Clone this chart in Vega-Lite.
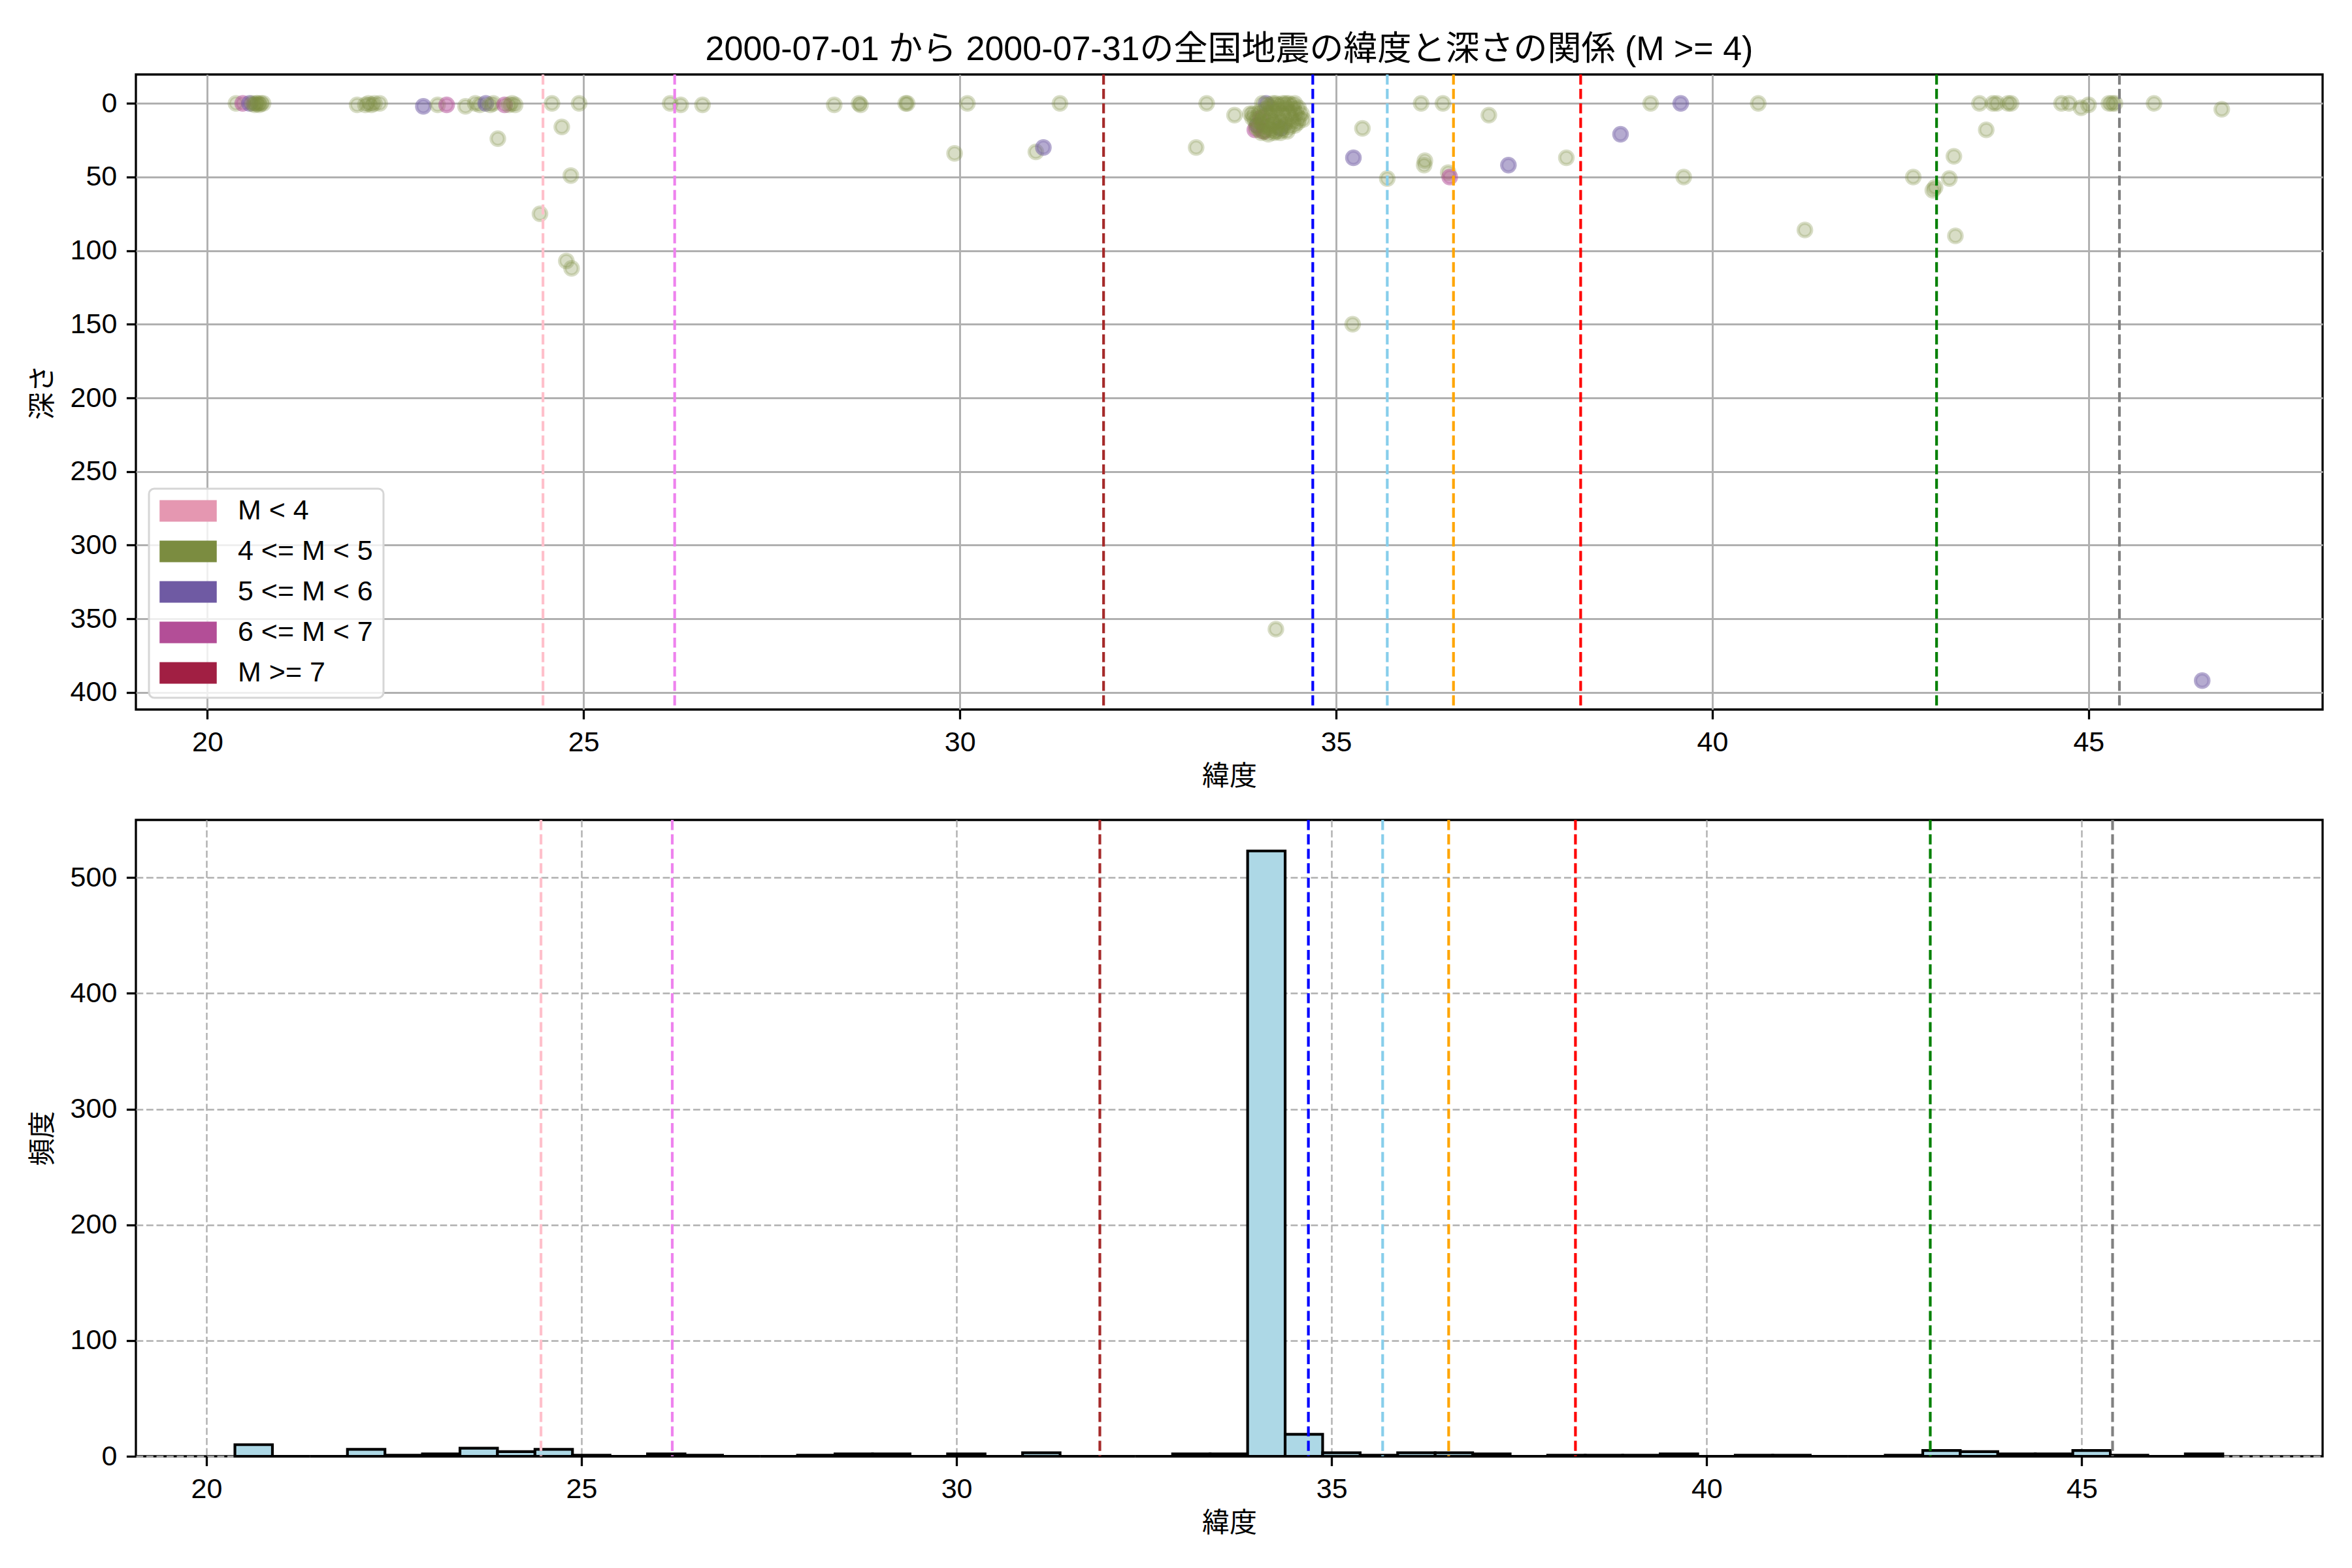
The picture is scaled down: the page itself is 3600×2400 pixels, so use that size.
{
  "$schema": "https://vega.github.io/schema/vega-lite/v6.json",
  "background": "white",
  "padding": {"left": 42, "top": 48, "right": 10, "bottom": 10},
  "bounds": "flush",
  "spacing": 169,
  "config": {
    "font": "Liberation Sans, Noto Sans CJK JP",
    "view": {"stroke": "black", "strokeWidth": 3.3},
    "axis": {
      "domain": false,
      "tickColor": "black",
      "tickWidth": 3.3,
      "tickSize": 14.6,
      "labelPadding": 14.6,
      "labelFontSize": 43,
      "labelColor": "black",
      "labelFont": "Liberation Sans, Noto Sans CJK JP",
      "titleFontSize": 42,
      "titleFontWeight": "normal",
      "titleColor": "black",
      "titleFont": "Noto Sans CJK JP",
      "gridColor": "#b0b0b0",
      "labelFlush": false,
      "labelOverlap": false
    }
  },
  "datasets": {
    "pts": [
      {"lat": 20.38, "depth": 0, "c": "4 <= M < 5"},
      {"lat": 20.47, "depth": 0, "c": "6 <= M < 7"},
      {"lat": 20.56, "depth": 0, "c": "5 <= M < 6"},
      {"lat": 20.60, "depth": 0, "c": "4 <= M < 5"},
      {"lat": 20.63, "depth": 1, "c": "4 <= M < 5"},
      {"lat": 20.65, "depth": 0, "c": "4 <= M < 5"},
      {"lat": 20.67, "depth": 0, "c": "4 <= M < 5"},
      {"lat": 20.69, "depth": 1, "c": "4 <= M < 5"},
      {"lat": 20.71, "depth": 0, "c": "4 <= M < 5"},
      {"lat": 20.74, "depth": 0, "c": "4 <= M < 5"},
      {"lat": 21.99, "depth": 1, "c": "4 <= M < 5"},
      {"lat": 22.10, "depth": 1, "c": "4 <= M < 5"},
      {"lat": 22.14, "depth": 0, "c": "4 <= M < 5"},
      {"lat": 22.18, "depth": 1, "c": "4 <= M < 5"},
      {"lat": 22.22, "depth": 0, "c": "4 <= M < 5"},
      {"lat": 22.29, "depth": 0, "c": "4 <= M < 5"},
      {"lat": 22.87, "depth": 2, "c": "5 <= M < 6"},
      {"lat": 23.06, "depth": 1, "c": "4 <= M < 5"},
      {"lat": 23.18, "depth": 1, "c": "6 <= M < 7"},
      {"lat": 23.43, "depth": 2, "c": "4 <= M < 5"},
      {"lat": 23.56, "depth": 0, "c": "4 <= M < 5"},
      {"lat": 23.62, "depth": 1, "c": "4 <= M < 5"},
      {"lat": 23.70, "depth": 0, "c": "5 <= M < 6"},
      {"lat": 23.76, "depth": 1, "c": "4 <= M < 5"},
      {"lat": 23.80, "depth": 0, "c": "4 <= M < 5"},
      {"lat": 23.86, "depth": 24, "c": "4 <= M < 5"},
      {"lat": 23.95, "depth": 1, "c": "6 <= M < 7"},
      {"lat": 24.01, "depth": 1, "c": "4 <= M < 5"},
      {"lat": 24.05, "depth": 0, "c": "4 <= M < 5"},
      {"lat": 24.09, "depth": 1, "c": "4 <= M < 5"},
      {"lat": 24.42, "depth": 75, "c": "4 <= M < 5"},
      {"lat": 24.58, "depth": 0, "c": "4 <= M < 5"},
      {"lat": 24.71, "depth": 16, "c": "4 <= M < 5"},
      {"lat": 24.77, "depth": 107, "c": "4 <= M < 5"},
      {"lat": 24.83, "depth": 49, "c": "4 <= M < 5"},
      {"lat": 24.84, "depth": 112, "c": "4 <= M < 5"},
      {"lat": 24.94, "depth": 0, "c": "4 <= M < 5"},
      {"lat": 26.15, "depth": 0, "c": "4 <= M < 5"},
      {"lat": 26.29, "depth": 1, "c": "4 <= M < 5"},
      {"lat": 26.58, "depth": 1, "c": "4 <= M < 5"},
      {"lat": 28.33, "depth": 1, "c": "4 <= M < 5"},
      {"lat": 28.66, "depth": 0, "c": "4 <= M < 5"},
      {"lat": 28.68, "depth": 1, "c": "4 <= M < 5"},
      {"lat": 29.28, "depth": 0, "c": "4 <= M < 5"},
      {"lat": 29.30, "depth": 0, "c": "4 <= M < 5"},
      {"lat": 29.93, "depth": 34, "c": "4 <= M < 5"},
      {"lat": 30.10, "depth": 0, "c": "4 <= M < 5"},
      {"lat": 31.01, "depth": 33, "c": "4 <= M < 5"},
      {"lat": 31.11, "depth": 30, "c": "5 <= M < 6"},
      {"lat": 31.33, "depth": 0, "c": "4 <= M < 5"},
      {"lat": 33.14, "depth": 30, "c": "4 <= M < 5"},
      {"lat": 33.28, "depth": 0, "c": "4 <= M < 5"},
      {"lat": 33.65, "depth": 8, "c": "4 <= M < 5"},
      {"lat": 33.86, "depth": 7, "c": "4 <= M < 5"},
      {"lat": 34.07, "depth": 0, "c": "5 <= M < 6"},
      {"lat": 33.95, "depth": 15, "c": "5 <= M < 6"},
      {"lat": 34.00, "depth": 10, "c": "6 <= M < 7"},
      {"lat": 33.92, "depth": 18, "c": "6 <= M < 7"},
      {"lat": 34.26, "depth": 17, "c": "5 <= M < 6"},
      {"lat": 34.04, "depth": 19, "c": "6 <= M < 7"},
      {"lat": 34.02, "depth": 0, "c": "4 <= M < 5"},
      {"lat": 34.11, "depth": 1, "c": "4 <= M < 5"},
      {"lat": 34.16, "depth": 0, "c": "4 <= M < 5"},
      {"lat": 34.20, "depth": 0, "c": "4 <= M < 5"},
      {"lat": 34.24, "depth": 1, "c": "4 <= M < 5"},
      {"lat": 34.29, "depth": 0, "c": "4 <= M < 5"},
      {"lat": 34.33, "depth": 0, "c": "4 <= M < 5"},
      {"lat": 34.37, "depth": 0, "c": "4 <= M < 5"},
      {"lat": 34.41, "depth": 1, "c": "4 <= M < 5"},
      {"lat": 34.45, "depth": 0, "c": "4 <= M < 5"},
      {"lat": 34.06, "depth": 4, "c": "4 <= M < 5"},
      {"lat": 34.14, "depth": 3, "c": "4 <= M < 5"},
      {"lat": 34.23, "depth": 4, "c": "4 <= M < 5"},
      {"lat": 34.34, "depth": 3, "c": "4 <= M < 5"},
      {"lat": 34.44, "depth": 4, "c": "4 <= M < 5"},
      {"lat": 34.50, "depth": 3, "c": "4 <= M < 5"},
      {"lat": 33.90, "depth": 7, "c": "4 <= M < 5"},
      {"lat": 33.98, "depth": 6, "c": "4 <= M < 5"},
      {"lat": 34.08, "depth": 7, "c": "4 <= M < 5"},
      {"lat": 34.18, "depth": 6, "c": "4 <= M < 5"},
      {"lat": 34.28, "depth": 7, "c": "4 <= M < 5"},
      {"lat": 34.38, "depth": 6, "c": "4 <= M < 5"},
      {"lat": 34.47, "depth": 7, "c": "4 <= M < 5"},
      {"lat": 34.54, "depth": 7, "c": "4 <= M < 5"},
      {"lat": 33.89, "depth": 10, "c": "4 <= M < 5"},
      {"lat": 33.96, "depth": 9, "c": "4 <= M < 5"},
      {"lat": 34.03, "depth": 10, "c": "4 <= M < 5"},
      {"lat": 34.12, "depth": 9, "c": "4 <= M < 5"},
      {"lat": 34.20, "depth": 10, "c": "4 <= M < 5"},
      {"lat": 34.30, "depth": 9, "c": "4 <= M < 5"},
      {"lat": 34.40, "depth": 10, "c": "4 <= M < 5"},
      {"lat": 34.51, "depth": 10, "c": "4 <= M < 5"},
      {"lat": 33.93, "depth": 12, "c": "4 <= M < 5"},
      {"lat": 34.01, "depth": 13, "c": "4 <= M < 5"},
      {"lat": 34.10, "depth": 12, "c": "4 <= M < 5"},
      {"lat": 34.17, "depth": 13, "c": "4 <= M < 5"},
      {"lat": 34.25, "depth": 12, "c": "4 <= M < 5"},
      {"lat": 34.33, "depth": 13, "c": "4 <= M < 5"},
      {"lat": 34.43, "depth": 12, "c": "4 <= M < 5"},
      {"lat": 34.49, "depth": 13, "c": "4 <= M < 5"},
      {"lat": 34.56, "depth": 11, "c": "4 <= M < 5"},
      {"lat": 33.94, "depth": 16, "c": "4 <= M < 5"},
      {"lat": 34.03, "depth": 15, "c": "4 <= M < 5"},
      {"lat": 34.09, "depth": 16, "c": "4 <= M < 5"},
      {"lat": 34.15, "depth": 15, "c": "4 <= M < 5"},
      {"lat": 34.22, "depth": 16, "c": "4 <= M < 5"},
      {"lat": 34.31, "depth": 15, "c": "4 <= M < 5"},
      {"lat": 34.38, "depth": 16, "c": "4 <= M < 5"},
      {"lat": 34.45, "depth": 15, "c": "4 <= M < 5"},
      {"lat": 33.98, "depth": 18, "c": "4 <= M < 5"},
      {"lat": 34.06, "depth": 19, "c": "4 <= M < 5"},
      {"lat": 34.13, "depth": 18, "c": "4 <= M < 5"},
      {"lat": 34.20, "depth": 19, "c": "4 <= M < 5"},
      {"lat": 34.28, "depth": 18, "c": "4 <= M < 5"},
      {"lat": 34.35, "depth": 19, "c": "4 <= M < 5"},
      {"lat": 34.01, "depth": 20, "c": "4 <= M < 5"},
      {"lat": 34.10, "depth": 21, "c": "4 <= M < 5"},
      {"lat": 34.18, "depth": 20, "c": "4 <= M < 5"},
      {"lat": 34.26, "depth": 20, "c": "4 <= M < 5"},
      {"lat": 34.20, "depth": 357, "c": "4 <= M < 5"},
      {"lat": 35.23, "depth": 37, "c": "5 <= M < 6"},
      {"lat": 35.22, "depth": 150, "c": "4 <= M < 5"},
      {"lat": 35.35, "depth": 17, "c": "4 <= M < 5"},
      {"lat": 35.68, "depth": 51, "c": "4 <= M < 5"},
      {"lat": 36.13, "depth": 0, "c": "4 <= M < 5"},
      {"lat": 36.17, "depth": 42, "c": "4 <= M < 5"},
      {"lat": 36.18, "depth": 39, "c": "4 <= M < 5"},
      {"lat": 36.42, "depth": 0, "c": "4 <= M < 5"},
      {"lat": 36.49, "depth": 47, "c": "4 <= M < 5"},
      {"lat": 36.51, "depth": 50, "c": "6 <= M < 7"},
      {"lat": 37.03, "depth": 8, "c": "4 <= M < 5"},
      {"lat": 37.29, "depth": 42, "c": "5 <= M < 6"},
      {"lat": 38.06, "depth": 37, "c": "4 <= M < 5"},
      {"lat": 38.78, "depth": 21, "c": "5 <= M < 6"},
      {"lat": 39.18, "depth": 0, "c": "4 <= M < 5"},
      {"lat": 39.58, "depth": 0, "c": "5 <= M < 6"},
      {"lat": 39.62, "depth": 50, "c": "4 <= M < 5"},
      {"lat": 40.61, "depth": 0, "c": "4 <= M < 5"},
      {"lat": 41.23, "depth": 86, "c": "4 <= M < 5"},
      {"lat": 42.67, "depth": 50, "c": "4 <= M < 5"},
      {"lat": 42.93, "depth": 59, "c": "4 <= M < 5"},
      {"lat": 42.96, "depth": 57, "c": "4 <= M < 5"},
      {"lat": 43.15, "depth": 51, "c": "4 <= M < 5"},
      {"lat": 43.21, "depth": 36, "c": "4 <= M < 5"},
      {"lat": 43.23, "depth": 90, "c": "4 <= M < 5"},
      {"lat": 43.55, "depth": 0, "c": "4 <= M < 5"},
      {"lat": 43.64, "depth": 18, "c": "4 <= M < 5"},
      {"lat": 43.73, "depth": 0, "c": "4 <= M < 5"},
      {"lat": 43.78, "depth": 0, "c": "4 <= M < 5"},
      {"lat": 43.93, "depth": 0, "c": "4 <= M < 5"},
      {"lat": 43.97, "depth": 0, "c": "4 <= M < 5"},
      {"lat": 44.64, "depth": 0, "c": "4 <= M < 5"},
      {"lat": 44.74, "depth": 0, "c": "4 <= M < 5"},
      {"lat": 44.90, "depth": 3, "c": "4 <= M < 5"},
      {"lat": 45.00, "depth": 1, "c": "4 <= M < 5"},
      {"lat": 45.27, "depth": 0, "c": "4 <= M < 5"},
      {"lat": 45.31, "depth": 0, "c": "4 <= M < 5"},
      {"lat": 45.35, "depth": 0, "c": "4 <= M < 5"},
      {"lat": 45.87, "depth": 0, "c": "4 <= M < 5"},
      {"lat": 46.51, "depth": 392, "c": "5 <= M < 6"},
      {"lat": 46.77, "depth": 4, "c": "4 <= M < 5"}
    ],
    "hist": [
      {"b0": 20.38, "b1": 20.88, "n": 10},
      {"b0": 20.88, "b1": 21.38, "n": 0},
      {"b0": 21.38, "b1": 21.88, "n": 0},
      {"b0": 21.88, "b1": 22.38, "n": 6},
      {"b0": 22.38, "b1": 22.88, "n": 1},
      {"b0": 22.88, "b1": 23.38, "n": 2},
      {"b0": 23.38, "b1": 23.88, "n": 7},
      {"b0": 23.88, "b1": 24.38, "n": 4},
      {"b0": 24.38, "b1": 24.88, "n": 6},
      {"b0": 24.88, "b1": 25.38, "n": 1},
      {"b0": 25.38, "b1": 25.88, "n": 0},
      {"b0": 25.88, "b1": 26.38, "n": 2},
      {"b0": 26.38, "b1": 26.88, "n": 1},
      {"b0": 26.88, "b1": 27.38, "n": 0},
      {"b0": 27.38, "b1": 27.88, "n": 0},
      {"b0": 27.88, "b1": 28.38, "n": 1},
      {"b0": 28.38, "b1": 28.88, "n": 2},
      {"b0": 28.88, "b1": 29.38, "n": 2},
      {"b0": 29.38, "b1": 29.88, "n": 0},
      {"b0": 29.88, "b1": 30.38, "n": 2},
      {"b0": 30.38, "b1": 30.88, "n": 0},
      {"b0": 30.88, "b1": 31.38, "n": 3},
      {"b0": 31.38, "b1": 31.88, "n": 0},
      {"b0": 31.88, "b1": 32.38, "n": 0},
      {"b0": 32.38, "b1": 32.88, "n": 0},
      {"b0": 32.88, "b1": 33.38, "n": 2},
      {"b0": 33.38, "b1": 33.88, "n": 2},
      {"b0": 33.88, "b1": 34.38, "n": 523},
      {"b0": 34.38, "b1": 34.88, "n": 19},
      {"b0": 34.88, "b1": 35.38, "n": 3},
      {"b0": 35.38, "b1": 35.88, "n": 1},
      {"b0": 35.88, "b1": 36.38, "n": 3},
      {"b0": 36.38, "b1": 36.88, "n": 3},
      {"b0": 36.88, "b1": 37.38, "n": 2},
      {"b0": 37.38, "b1": 37.88, "n": 0},
      {"b0": 37.88, "b1": 38.38, "n": 1},
      {"b0": 38.38, "b1": 38.88, "n": 1},
      {"b0": 38.88, "b1": 39.38, "n": 1},
      {"b0": 39.38, "b1": 39.88, "n": 2},
      {"b0": 39.88, "b1": 40.38, "n": 0},
      {"b0": 40.38, "b1": 40.88, "n": 1},
      {"b0": 40.88, "b1": 41.38, "n": 1},
      {"b0": 41.38, "b1": 41.88, "n": 0},
      {"b0": 41.88, "b1": 42.38, "n": 0},
      {"b0": 42.38, "b1": 42.88, "n": 1},
      {"b0": 42.88, "b1": 43.38, "n": 5},
      {"b0": 43.38, "b1": 43.88, "n": 4},
      {"b0": 43.88, "b1": 44.38, "n": 2},
      {"b0": 44.38, "b1": 44.88, "n": 2},
      {"b0": 44.88, "b1": 45.38, "n": 5},
      {"b0": 45.38, "b1": 45.88, "n": 1},
      {"b0": 45.88, "b1": 46.38, "n": 0},
      {"b0": 46.38, "b1": 46.88, "n": 2}
    ],
    "lines": [
      {"id": "a", "lat": 24.46},
      {"id": "b", "lat": 26.21},
      {"id": "c", "lat": 31.91},
      {"id": "d", "lat": 34.69},
      {"id": "e", "lat": 35.68},
      {"id": "f", "lat": 36.56},
      {"id": "g", "lat": 38.25},
      {"id": "h", "lat": 42.98},
      {"id": "i", "lat": 45.41}
    ]
  },
  "vconcat": [
    {
      "width": 3347,
      "height": 972,
      "title": {
        "text": "2000-07-01 から 2000-07-31の全国地震の緯度と深さの関係 (M >= 4)",
        "fontSize": 52,
        "font": "Liberation Sans, Noto Sans CJK JP",
        "fontWeight": "normal",
        "color": "black",
        "anchor": "middle",
        "baseline": "bottom",
        "offset": -43
      },
      "layer": [
        {
          "data": {"name": "pts"},
          "mark": {"type": "point", "shape": "circle", "size": 420, "strokeWidth": 5},
          "encoding": {
            "x": {
              "field": "lat", "type": "quantitative",
              "scale": {"domain": [19.05, 48.11], "nice": false, "zero": false},
              "axis": {"title": "緯度", "values": [20, 25, 30, 35, 40, 45], "grid": true, "gridWidth": 2.9, "titlePadding": 10}
            },
            "y": {
              "field": "depth", "type": "quantitative",
              "scale": {"domain": [-19.6, 411.6], "reverse": true, "nice": false, "zero": false},
              "axis": {"title": "深さ", "values": [0, 50, 100, 150, 200, 250, 300, 350, 400], "grid": true, "gridWidth": 2.9, "titlePadding": 20}
            },
            "fill": {
              "field": "c", "type": "nominal",
              "scale": {
                "domain": ["M < 4", "4 <= M < 5", "5 <= M < 6", "6 <= M < 7", "M >= 7"],
                "range": ["#E597B1", "#7B8C40", "#6F5AA3", "#B34E97", "#A11F43"]
              },
              "legend": {
                "title": null,
                "orient": "none",
                "legendX": 20,
                "legendY": 634,
                "zindex": 2,
                "symbolType": "M-1,-0.377H1V0.377H-1Z",
                "symbolSize": 7656,
                "symbolStrokeWidth": 0,
                "symbolOpacity": 1,
                "labelFontSize": 43,
                "labelFont": "Liberation Sans, Noto Sans CJK JP",
                "labelColor": "black",
                "labelLimit": 600,
                "labelOffset": 32,
                "rowPadding": 19,
                "clipHeight": 36,
                "padding": 16,
                "fillColor": "rgba(255,255,255,0.8)",
                "strokeColor": "#d6d6d6",
                "cornerRadius": 8,
                "encode": {
                  "symbols": {"update": {"fillOpacity": {"value": 1}, "strokeOpacity": {"value": 0}}},
                  "legend": {"update": {"strokeWidth": {"value": 3}}}
                }
              }
            },
            "stroke": {
              "field": "c", "type": "nominal",
              "scale": {
                "domain": ["M < 4", "4 <= M < 5", "5 <= M < 6", "6 <= M < 7", "M >= 7"],
                "range": ["#E597B1", "#7B8C40", "#6F5AA3", "#B34E97", "#A11F43"]
              },
              "legend": null
            },
            "fillOpacity": {"condition": {"test": "datum.c === '4 <= M < 5'", "value": 0.42}, "value": 0.72},
            "strokeOpacity": {"condition": {"test": "datum.c === '4 <= M < 5'", "value": 0.42}, "value": 0.72}
          }
        },
        {
          "data": {"name": "lines"},
          "mark": {"type": "rule", "strokeWidth": 4.17, "strokeDash": [15.4, 6.7]},
          "encoding": {
            "x": {
              "field": "lat", "type": "quantitative",
              "scale": {"domain": [19.05, 48.11], "nice": false, "zero": false},
              "axis": {"title": "緯度", "values": [20, 25, 30, 35, 40, 45], "grid": true, "gridWidth": 2.9, "titlePadding": 10}
            },
            "color": {
              "field": "id", "type": "nominal",
              "scale": {
                "domain": ["a", "b", "c", "d", "e", "f", "g", "h", "i"],
                "range": ["#FFC0CB", "#EE82EE", "#A52A2A", "#0000FF", "#87CEEB", "#FFA500", "#FF0000", "#008000", "#808080"]
              },
              "legend": null
            }
          }
        }
      ]
    },
    {
      "width": 3347,
      "height": 974,
      "layer": [
        {
          "data": {"name": "hist"},
          "mark": {"type": "bar", "fill": "#ADD8E6", "stroke": "black", "strokeWidth": 4.17},
          "encoding": {
            "x": {
              "field": "b0", "type": "quantitative",
              "scale": {"domain": [19.06, 48.21], "nice": false, "zero": false},
              "axis": {"title": "緯度", "values": [20, 25, 30, 35, 40, 45], "grid": true, "gridWidth": 2.4, "gridDash": [10.8, 4.7], "titlePadding": 10}
            },
            "x2": {"field": "b1"},
            "y": {
              "field": "n", "type": "quantitative",
              "scale": {"domain": [0, 549.8], "nice": false, "zero": false},
              "axis": {"title": "頻度", "values": [0, 100, 200, 300, 400, 500], "grid": true, "gridWidth": 2.4, "gridDash": [10.8, 4.7], "titlePadding": 20}
            },
            "y2": {"datum": 0}
          }
        },
        {
          "data": {"name": "lines"},
          "mark": {"type": "rule", "strokeWidth": 4.17, "strokeDash": [15.4, 6.7]},
          "encoding": {
            "x": {
              "field": "lat", "type": "quantitative",
              "scale": {"domain": [19.06, 48.21], "nice": false, "zero": false},
              "axis": {"title": "緯度", "values": [20, 25, 30, 35, 40, 45], "grid": true, "gridWidth": 2.4, "gridDash": [10.8, 4.7], "titlePadding": 10}
            },
            "color": {
              "field": "id", "type": "nominal",
              "scale": {
                "domain": ["a", "b", "c", "d", "e", "f", "g", "h", "i"],
                "range": ["#FFC0CB", "#EE82EE", "#A52A2A", "#0000FF", "#87CEEB", "#FFA500", "#FF0000", "#008000", "#808080"]
              },
              "legend": null
            }
          }
        }
      ]
    }
  ]
}
